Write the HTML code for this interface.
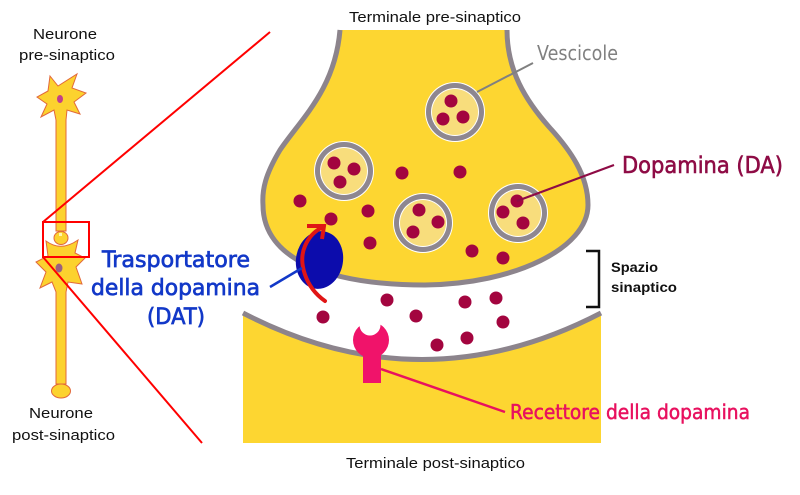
<!DOCTYPE html>
<html><head><meta charset="utf-8"><style>
html,body{margin:0;padding:0;background:#fff;}
svg{display:block;}
</style></head><body>
<svg width="800" height="495" viewBox="0 0 800 495" xmlns="http://www.w3.org/2000/svg">
<rect width="800" height="495" fill="#fff"/>

<!-- Left neurons -->
<g fill="#fcd22e" stroke="#e2683a" stroke-width="1">
  <path d="M 50,76 L 58,86 L 77,74 L 72,88 L 86,93 L 74,102 L 80,114 L 67,110 L 66,120 L 66,231 L 56,231 L 56,120 L 54,110 L 41,117 L 47,104 L 37,97 L 48,91 Z"/>
  <ellipse cx="61" cy="238" rx="7" ry="6.5"/>
  <path d="M 46,241 Q 61,252 78,240 L 75,253 L 85,258 L 76,267 L 82,284 L 68,282 L 66,292 L 66,384 L 56,384 L 56,292 L 52,282 L 40,288 L 46,272 L 36,262 L 48,256 Z"/>
  <ellipse cx="61" cy="391" rx="9.5" ry="7"/>
</g>
<ellipse cx="60" cy="99" rx="3" ry="4" fill="#c2408a"/>
<ellipse cx="59" cy="268" rx="3.5" ry="4.5" fill="#9a6080"/>
<rect x="59" y="233" width="3" height="3" fill="#fff6b0"/>

<!-- zoom lines -->
<g stroke="#ff0000" stroke-width="2" fill="none">
  <rect x="43" y="222" width="46" height="35"/>
  <line x1="43" y1="222" x2="270" y2="32"/>
  <line x1="43" y1="257" x2="202" y2="443"/>
</g>

<!-- post-synaptic terminal -->
<path d="M 243,313 Q 422,406 601,313 L 601,443 L 243,443 Z" fill="#fdd631"/>
<path d="M 243,313 Q 422,406 601,313" fill="none" stroke="#8c848c" stroke-width="5"/>

<!-- pre-synaptic terminal -->
<path d="M 340,30 C 335,90 300,120 280,150 C 265,175 262,190 263,205 C 263,260 330,285 425,285 C 515,284 588,248 588,205 C 588,175 570,150 550,128 C 525,100 507,70 507,30 Z" fill="#fdd631"/>
<path d="M 340,30 C 335,90 300,120 280,150 C 265,175 262,190 263,205 C 263,260 330,285 425,285 C 515,284 588,248 588,205 C 588,175 570,150 550,128 C 525,100 507,70 507,30" fill="none" stroke="#8c848c" stroke-width="5"/>

<!-- vesicles -->
<g>
  <g transform="translate(455,112)"><circle r="30" fill="#fff"/><circle r="29" fill="#8e8790"/><circle r="24" fill="#fff"/><circle r="23" fill="#f8dd7c"/></g>
  <g transform="translate(344,171)"><circle r="30" fill="#fff"/><circle r="29" fill="#8e8790"/><circle r="24" fill="#fff"/><circle r="23" fill="#f8dd7c"/></g>
  <g transform="translate(423,223)"><circle r="30" fill="#fff"/><circle r="29" fill="#8e8790"/><circle r="24" fill="#fff"/><circle r="23" fill="#f8dd7c"/></g>
  <g transform="translate(518,213)"><circle r="30" fill="#fff"/><circle r="29" fill="#8e8790"/><circle r="24" fill="#fff"/><circle r="23" fill="#f8dd7c"/></g>
</g>

<!-- dopamine dots -->
<g fill="#a3053f">
  <circle cx="451" cy="101" r="6.5"/><circle cx="443" cy="119" r="6.5"/><circle cx="463" cy="117" r="6.5"/>
  <circle cx="334" cy="163" r="6.5"/><circle cx="354" cy="169" r="6.5"/><circle cx="340" cy="182" r="6.5"/>
  <circle cx="419" cy="210" r="6.5"/><circle cx="438" cy="222" r="6.5"/><circle cx="413" cy="232" r="6.5"/>
  <circle cx="517" cy="201" r="6.5"/><circle cx="503" cy="212" r="6.5"/><circle cx="523" cy="223" r="6.5"/>
  <circle cx="402" cy="173" r="6.5"/><circle cx="460" cy="172" r="6.5"/><circle cx="300" cy="201" r="6.5"/>
  <circle cx="331" cy="219" r="6.5"/><circle cx="368" cy="211" r="6.5"/><circle cx="370" cy="243" r="6.5"/>
  <circle cx="472" cy="251" r="6.5"/><circle cx="503" cy="258" r="6.5"/>
  <circle cx="387" cy="300" r="6.5"/><circle cx="416" cy="316" r="6.5"/><circle cx="465" cy="302" r="6.5"/>
  <circle cx="496" cy="298" r="6.5"/><circle cx="503" cy="322" r="6.5"/><circle cx="467" cy="338" r="6.5"/>
  <circle cx="437" cy="345" r="6.5"/><circle cx="323" cy="317" r="6.5"/>
</g>

<!-- DAT -->
<ellipse cx="319.5" cy="260" rx="23.5" ry="29" fill="#0c0cac" transform="rotate(10 319.5 260)"/>
<path d="M 325,301 C 305,287 298,262 305,246 Q 310,234 321,228" fill="none" stroke="#e01515" stroke-width="4" stroke-linecap="round"/>
<polyline points="307,226 324,226 322,239" fill="none" stroke="#e01515" stroke-width="4" stroke-linejoin="miter"/>
<line x1="270" y1="287" x2="302" y2="268" stroke="#1238c8" stroke-width="2.5"/>

<!-- receptor -->
<circle cx="371" cy="340" r="18" fill="#f0136a"/>
<circle cx="370" cy="325" r="10.5" fill="#fff"/>
<rect x="363" y="350" width="18" height="33" fill="#f0136a"/>
<line x1="381" y1="369" x2="505" y2="412" stroke="#e8115f" stroke-width="2.5"/>

<!-- other connectors -->
<line x1="533" y1="63" x2="477" y2="92" stroke="#808080" stroke-width="2"/>
<line x1="614" y1="165" x2="517" y2="201" stroke="#8e0b45" stroke-width="2.2"/>
<path d="M 586,251 L 599,251 L 599,307 L 586,307" fill="none" stroke="#111" stroke-width="2.5"/>

<!-- text -->
<g font-family="'Liberation Sans', 'DejaVu Sans', sans-serif" fill="#111" font-size="15">
  <text x="349" y="22" textLength="172" lengthAdjust="spacingAndGlyphs">Terminale pre-sinaptico</text>
  <text x="346" y="468" textLength="179" lengthAdjust="spacingAndGlyphs">Terminale post-sinaptico</text>
  <text x="33" y="39" textLength="64" lengthAdjust="spacingAndGlyphs">Neurone</text>
  <text x="19" y="60" textLength="96" lengthAdjust="spacingAndGlyphs">pre-sinaptico</text>
  <text x="29" y="418" textLength="64" lengthAdjust="spacingAndGlyphs">Neurone</text>
  <text x="12" y="440" textLength="103" lengthAdjust="spacingAndGlyphs">post-sinaptico</text>
  <text x="611" y="272" font-weight="bold" font-size="14" textLength="47" lengthAdjust="spacingAndGlyphs">Spazio</text>
  <text x="611" y="292" font-weight="bold" font-size="14" textLength="66" lengthAdjust="spacingAndGlyphs">sinaptico</text>
</g>
<g font-family="'DejaVu Sans', 'Liberation Sans', sans-serif">
  <text x="537" y="60" font-size="20" fill="#808080" textLength="81" lengthAdjust="spacingAndGlyphs">Vescicole</text>
  <text x="622" y="173" font-size="23" fill="#8e0b45" stroke="#8e0b45" stroke-width="0.6" textLength="161" lengthAdjust="spacingAndGlyphs">Dopamina (DA)</text>
  <text x="510" y="419" font-size="20" fill="#e8115f" stroke="#e8115f" stroke-width="0.5" textLength="240" lengthAdjust="spacingAndGlyphs">Recettore della dopamina</text>
  <g fill="#1238c8" stroke="#1238c8" stroke-width="0.7" font-size="22">
    <text x="102" y="267" textLength="148" lengthAdjust="spacingAndGlyphs">Trasportatore</text>
    <text x="91" y="295" textLength="169" lengthAdjust="spacingAndGlyphs">della dopamina</text>
    <text x="147" y="324" textLength="58" lengthAdjust="spacingAndGlyphs">(DAT)</text>
  </g>
</g>
</svg>
</body></html>
